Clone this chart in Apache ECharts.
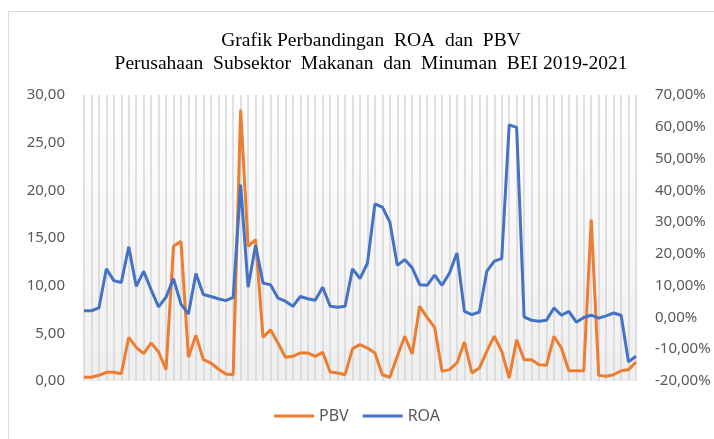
<!DOCTYPE html>
<html>
<head>
<meta charset="utf-8">
<script src="https://cdn.jsdelivr.net/npm/echarts@6/dist/echarts.min.js"></script>
<style>
html,body{margin:0;padding:0;background:#fff;}
#main{width:714px;height:439px;}
</style>
</head>
<body>
<div id="main"></div>
<script>
// categories: 75 observations (25 perusahaan x 3 tahun)
var kategori = [];
for (var i = 1; i <= 75; i++) kategori.push(String(i));

// PBV (kali)
var pbv = [
	0.39, 0.39, 0.6, 0.91, 0.91, 0.77, 4.58, 3.53, 2.87, 3.99,
	3.04, 1.19, 14.13, 14.65, 2.49, 4.79, 2.24, 1.89, 1.26, 0.73,
	0.66, 28.46, 14.13, 14.82, 4.58, 5.38, 3.99, 2.49, 2.59, 2.94,
	2.94, 2.59, 3.01, 0.94, 0.84, 0.66, 3.39, 3.81, 3.46, 2.94,
	0.66, 0.39, 2.59, 4.69, 2.83, 7.83, 6.68, 5.63, 1.01, 1.19,
	1.89, 4.09, 0.84, 1.36, 3.11, 4.69, 3.11, 0.31, 4.33, 2.24,
	2.24, 1.71, 1.64, 4.69, 3.46, 1.08, 1.08, 1.08, 16.92, 0.59,
	0.49, 0.66, 1.08, 1.19, 1.99
];

// ROA (%)
var roa = [
	2.1, 2.1, 3.0, 15.3, 11.6, 11.0, 22.2, 9.8, 14.5, 8.7,
	3.3, 6.4, 12.2, 4.2, 1.1, 13.8, 7.2, 6.6, 5.9, 5.3,
	6.3, 41.8, 9.5, 22.7, 10.8, 10.3, 6.1, 5.1, 3.5, 6.6,
	5.9, 5.4, 9.5, 3.5, 3.2, 3.5, 15.3, 12.2, 17.1, 35.7,
	34.7, 30.0, 16.4, 18.2, 15.6, 10.3, 10.1, 13.3, 10.1, 14.0,
	20.3, 1.9, 0.9, 1.7, 14.5, 17.7, 18.5, 60.6, 59.8, 0.2,
	-0.9, -1.2, -0.9, 3.0, 0.7, 1.9, -1.5, 0.0, 0.7, -0.2,
	0.5, 1.4, 0.7, -14.0, -12.2
];

var judul = "Grafik Perbandingan  ROA  dan  PBV\nPerusahaan  Subsektor  Makanan  dan  Minuman  BEI 2019-2021";

function koma(v){ return v.toFixed(2).replace(".", ","); }

var chart = echarts.init(document.getElementById("main"));
var option = {
	backgroundColor: "#fff",
	animation: false,
	title: {
		text: judul,
		left: 366,
		textAlign: "center",
		top: 24,
		textStyle: {
			fontFamily: "Liberation Serif",
			fontWeight: "normal",
			fontSize: 19.5,
			color: "#000",
			lineHeight: 23
		}
	},
	graphic: [{
		type: "rect",
		shape: {x: 8.5, y: 11.5, width: 760, height: 460},
		style: {fill: "none", stroke: "#d9d9d9", lineWidth: 1},
		silent: true
	}],
	legend: {
		bottom: 10,
		left: "center",
		padding: [5, 5, 5, 28],
		itemWidth: 40,
		itemHeight: 3,
		itemGap: 14,
		icon: "rect",
		textStyle: {fontFamily: "Noto Sans", fontSize: 16, color: "#595959"},
		data: ["PBV", "ROA"]
	},
	grid: {
		left: 84, right: 78, top: 95, bottom: 58,
		show: true,
		borderWidth: 0,
		backgroundColor: new echarts.graphic.LinearGradient(0, 0, 0, 1, [
			{offset: 0, color: "#ffffff"},
			{offset: 1, color: "#efefef"}
		])
	},
	xAxis: {
		type: "category",
		data: kategori,
		boundaryGap: false,
		axisLine: {show: false},
		axisTick: {show: false},
		axisLabel: {show: false, interval: 0},
		splitLine: {show: true, interval: 0, lineStyle: {color: "#d6d6d6", width: 1.5}}
	},
	yAxis: [{
		type: "value",
		min: 0, max: 30, interval: 5,
		axisLine: {show: false},
		axisTick: {show: false},
		splitLine: {show: false},
		axisLabel: {
			margin: 19,
			fontFamily: "Noto Sans", fontSize: 15, color: "#595959",
			formatter: koma
		}
	}, {
		type: "value",
		min: -20, max: 70, interval: 10,
		axisLine: {show: false},
		axisTick: {show: false},
		splitLine: {show: false},
		axisLabel: {
			margin: 19,
			fontFamily: "Noto Sans", fontSize: 15, color: "#595959",
			formatter: function(v){ return koma(v) + "%"; }
		}
	}],
	series: [{
		name: "PBV",
		type: "line",
		data: pbv,
		yAxisIndex: 0,
		showSymbol: false,
		color: "#ED7D31",
		lineStyle: {width: 3, color: "#ED7D31"}
	}, {
		name: "ROA",
		type: "line",
		data: roa,
		yAxisIndex: 1,
		showSymbol: false,
		color: "#4472C4",
		lineStyle: {width: 3, color: "#4472C4"}
	}]
};
chart.setOption(option);
</script>
</body>
</html>
